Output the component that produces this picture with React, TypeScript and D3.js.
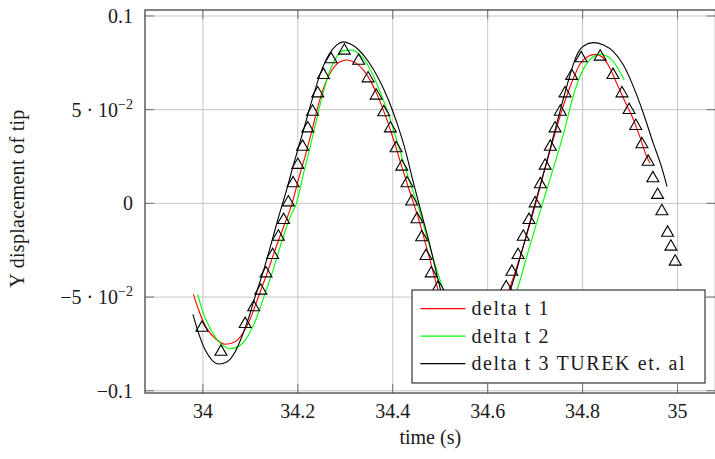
import React, { useEffect, useRef } from "react"
import * as d3 from "d3"

const WIDTH = 715
const HEIGHT = 459
const PLOT = { left: 145, right: 715.5, top: 10, bottom: 393 }

const X_DOMAIN = [33.878, 35.08]
const Y_DOMAIN = [-0.1012, 0.1032]

const X_TICKS = [34, 34.2, 34.4, 34.6, 34.8, 35]
const X_TICK_LABELS = ["34", "34.2", "34.4", "34.6", "34.8", "35"]
const Y_TICKS = [-0.1, -0.05, 0, 0.05, 0.1]
const Y_TICK_LABELS = ["\u22120.1", "\u22125 \u00b7 10", "0", "5 \u00b7 10", "0.1"]
const Y_TICK_EXPONENTS = [null, "\u22122", null, "\u22122", null]

const X_LABEL = "time (s)"
const Y_LABEL = "Y displacement of tip"

// [time, displacement]
const deltaT1: [number, number][] = [
	[33.98, -0.0486], [33.991, -0.0569], [34.008, -0.0667], [34.026, -0.0721], [34.047, -0.0752],
	[34.068, -0.0738], [34.086, -0.0685], [34.1, -0.0614], [34.117, -0.0498], [34.135, -0.0374],
	[34.152, -0.0249], [34.17, -0.0125], [34.188, 0.0], [34.201, 0.0125], [34.216, 0.0258],
	[34.23, 0.0391], [34.244, 0.0534], [34.258, 0.0641], [34.272, 0.0712], [34.289, 0.0756],
	[34.303, 0.0765], [34.321, 0.0751], [34.338, 0.0712], [34.352, 0.0659], [34.366, 0.0587],
	[34.384, 0.0472], [34.402, 0.0338], [34.419, 0.0196], [34.437, 0.0054], [34.454, -0.008],
	[34.475, -0.027], [34.496, -0.0464], [34.52, -0.062], [34.555, -0.073], [34.59, -0.069],
	[34.62, -0.059], [34.645, -0.046], [34.67, -0.027], [34.7, -0.001], [34.718, 0.016],
	[34.738, 0.034], [34.758, 0.051], [34.777, 0.0645], [34.795, 0.0745], [34.812, 0.0785],
	[34.827, 0.0795], [34.842, 0.078], [34.857, 0.0725], [34.872, 0.064], [34.89, 0.054],
	[34.905, 0.046], [34.92, 0.036], [34.935, 0.025], [34.942, 0.0214],
]

const deltaT2: [number, number][] = [
	[33.989, -0.0486], [34.001, -0.0587], [34.019, -0.0685], [34.036, -0.0744], [34.058, -0.0776],
	[34.079, -0.0756], [34.096, -0.0703], [34.114, -0.0605], [34.131, -0.048], [34.149, -0.0347],
	[34.166, -0.0205], [34.184, -0.0071], [34.197, 0.0], [34.212, 0.016], [34.226, 0.0302],
	[34.24, 0.0454], [34.254, 0.0596], [34.268, 0.0712], [34.282, 0.0783], [34.296, 0.0815],
	[34.314, 0.0818], [34.331, 0.0792], [34.349, 0.073], [34.366, 0.0641], [34.384, 0.0525],
	[34.402, 0.0391], [34.419, 0.0249], [34.437, 0.0107], [34.454, -0.002], [34.48, -0.025],
	[34.507, -0.0464], [34.53, -0.062], [34.565, -0.074], [34.6, -0.07], [34.63, -0.06],
	[34.662, -0.046], [34.685, -0.026], [34.707, -0.0071], [34.735, 0.016], [34.76, 0.0374],
	[34.784, 0.0605], [34.809, 0.0747], [34.837, 0.0795], [34.862, 0.0765], [34.888, 0.0658],
]

const deltaT3Turek: [number, number][] = [
	[33.979, -0.0592], [33.991, -0.0694], [34.005, -0.0783], [34.019, -0.0836], [34.033, -0.0857],
	[34.051, -0.0845], [34.068, -0.0792], [34.082, -0.0712], [34.096, -0.0614], [34.11, -0.0498],
	[34.128, -0.0356], [34.145, -0.0205], [34.158, -0.0085], [34.175, 0.006], [34.193, 0.0225],
	[34.212, 0.0392], [34.23, 0.0552], [34.247, 0.069], [34.265, 0.0792], [34.282, 0.0846],
	[34.296, 0.0862], [34.31, 0.0852], [34.328, 0.082], [34.349, 0.0756], [34.37, 0.0667],
	[34.391, 0.0552], [34.41, 0.042], [34.428, 0.027], [34.442, 0.0125], [34.456, -0.001],
	[34.478, -0.022], [34.501, -0.0464], [34.53, -0.068], [34.565, -0.078], [34.6, -0.072],
	[34.625, -0.06], [34.648, -0.046], [34.675, -0.023], [34.7, 0.0], [34.722, 0.02],
	[34.745, 0.042], [34.765, 0.061], [34.788, 0.0792], [34.802, 0.084], [34.823, 0.0858],
	[34.844, 0.0845], [34.865, 0.081], [34.886, 0.0738], [34.907, 0.0623], [34.928, 0.0481],
	[34.949, 0.032], [34.965, 0.0205], [34.978, 0.0089],
]

// reference points (triangles), no legend entry
const referencePoints: [number, number][] = [
	[33.998, -0.0664], [34.038, -0.0792], [34.089, -0.0644], [34.107, -0.0555], [34.122, -0.0466],
	[34.133, -0.0374], [34.147, -0.0276], [34.159, -0.0178], [34.17, -0.0089], [34.18, 0.0005],
	[34.19, 0.0107], [34.2, 0.0205], [34.21, 0.0302], [34.221, 0.04], [34.231, 0.0489],
	[34.242, 0.0587], [34.254, 0.0685], [34.27, 0.0769], [34.298, 0.0815], [34.328, 0.0761],
	[34.348, 0.0667], [34.365, 0.0575], [34.381, 0.0486], [34.395, 0.04], [34.407, 0.0294],
	[34.419, 0.0196], [34.43, 0.0107], [34.44, 0.001], [34.451, -0.0085], [34.461, -0.0181],
	[34.47, -0.0281], [34.481, -0.0374], [34.496, -0.0448], [34.639, -0.0448], [34.651, -0.0365],
	[34.664, -0.0276], [34.675, -0.0178], [34.687, -0.0089], [34.7, 0.0], [34.711, 0.0102],
	[34.721, 0.0201], [34.732, 0.0302], [34.742, 0.04], [34.753, 0.0489], [34.763, 0.0587],
	[34.777, 0.068], [34.797, 0.0774], [34.837, 0.0783], [34.864, 0.0685], [34.883, 0.0587],
	[34.898, 0.0498], [34.912, 0.0413], [34.925, 0.0315], [34.938, 0.0222], [34.948, 0.0134],
	[34.958, 0.0045], [34.967, -0.0042], [34.979, -0.0157], [34.986, -0.0231], [34.995, -0.0311],
]

const SERIES = [
	{ name: "delta t 1", data: deltaT1, color: "#ff0000" },
	{ name: "delta t 2", data: deltaT2, color: "#00ff00" },
	{ name: "delta t 3 TUREK et. al", data: deltaT3Turek, color: "#000000" },
]

const FONT = "Liberation Serif"
const TEXT_COLOR = "#1a1a1a"

const App = () => {
	const svgRef = useRef<SVGSVGElement>(null)

	useEffect(() => {
		if (!svgRef.current) return
		const svg = d3.select(svgRef.current)
		svg.selectAll("*").remove()

		const x = d3.scaleLinear().domain(X_DOMAIN).range([PLOT.left, PLOT.right])
		const y = d3.scaleLinear().domain(Y_DOMAIN).range([PLOT.bottom, PLOT.top])

		// grid
		const grid = svg.append("g").attr("stroke", "#c6c6c6").attr("stroke-width", 1)
		X_TICKS.forEach((t) => {
			grid.append("line")
				.attr("x1", x(t)).attr("x2", x(t))
				.attr("y1", PLOT.top).attr("y2", PLOT.bottom)
		})
		Y_TICKS.forEach((t) => {
			grid.append("line")
				.attr("x1", PLOT.left).attr("x2", PLOT.right)
				.attr("y1", y(t)).attr("y2", y(t))
		})

		// tick marks, inside, on all four sides
		const TICK = 9
		const ticks = svg.append("g").attr("stroke", "#707070").attr("stroke-width", 1)
		X_TICKS.forEach((t) => {
			ticks.append("line").attr("x1", x(t)).attr("x2", x(t))
				.attr("y1", PLOT.bottom).attr("y2", PLOT.bottom - TICK)
			ticks.append("line").attr("x1", x(t)).attr("x2", x(t))
				.attr("y1", PLOT.top).attr("y2", PLOT.top + TICK)
		})
		Y_TICKS.forEach((t) => {
			ticks.append("line").attr("x1", PLOT.left).attr("x2", PLOT.left + TICK)
				.attr("y1", y(t)).attr("y2", y(t))
			ticks.append("line").attr("x1", PLOT.right).attr("x2", PLOT.right - TICK)
				.attr("y1", y(t)).attr("y2", y(t))
		})

		// series lines
		const line = d3.line<[number, number]>()
			.x((d) => x(d[0]))
			.y((d) => y(d[1]))
			.curve(d3.curveMonotoneX)

		SERIES.forEach((s) => {
			svg.append("path")
				.datum(s.data)
				.attr("fill", "none")
				.attr("stroke", s.color)
				.attr("stroke-width", 1.1)
				.attr("d", line)
		})

		// triangle markers
		const tri = d3.symbol().type(d3.symbolTriangle).size(62)
		svg.append("g")
			.selectAll("path")
			.data(referencePoints)
			.join("path")
			.attr("transform", (d) => `translate(${x(d[0])},${y(d[1])})`)
			.attr("d", tri)
			.attr("fill", "none")
			.attr("stroke", "#000")
			.attr("stroke-width", 1.1)

		// frame
		svg.append("rect")
			.attr("x", PLOT.left).attr("y", PLOT.top)
			.attr("width", PLOT.right - PLOT.left)
			.attr("height", PLOT.bottom - PLOT.top)
			.attr("fill", "none")
			.attr("stroke", "#444")
			.attr("stroke-width", 1.3)

		const text = (sel: any) =>
			sel.attr("font-family", FONT).attr("font-size", 20).attr("fill", TEXT_COLOR)

		// x tick labels
		X_TICKS.forEach((t, i) => {
			svg.append("text")
				.attr("x", x(t)).attr("y", PLOT.bottom + 25)
				.attr("text-anchor", "middle")
				.call(text)
				.text(X_TICK_LABELS[i])
		})

		// y tick labels
		Y_TICKS.forEach((t, i) => {
			const txt = svg.append("text")
				.attr("x", PLOT.left - 12).attr("y", y(t) + 7)
				.attr("text-anchor", "end")
				.call(text)
			txt.append("tspan").text(Y_TICK_LABELS[i])
			const exp = Y_TICK_EXPONENTS[i]
			if (exp) {
				txt.append("tspan")
					.attr("dy", -8)
					.attr("font-size", 14)
					.text(exp)
			}
		})

		// axis labels
		svg.append("text")
			.attr("x", (PLOT.left + PLOT.right) / 2).attr("y", 444)
			.attr("text-anchor", "middle")
			.call(text)
			.text(X_LABEL)

		svg.append("text")
			.attr("transform", `translate(24,${(PLOT.top + PLOT.bottom) / 2 - 3}) rotate(-90)`)
			.attr("text-anchor", "middle")
			.call(text)
			.attr("letter-spacing", 0.3)
			.text(Y_LABEL)

		// legend, south east
		const lgW = 293
		const lgH = 93
		const lgX = PLOT.right - 10.5 - lgW
		const lgY = PLOT.bottom - 10 - lgH
		const legend = svg.append("g").attr("transform", `translate(${lgX},${lgY})`)
		legend.append("rect")
			.attr("width", lgW).attr("height", lgH)
			.attr("fill", "#fff").attr("stroke", "#222").attr("stroke-width", 1.1)
		SERIES.forEach((s, i) => {
			const rowY = 18.6 + i * 27.5
			legend.append("line")
				.attr("x1", 8.4).attr("x2", 53.4)
				.attr("y1", rowY).attr("y2", rowY)
				.attr("stroke", s.color).attr("stroke-width", 1.1)
			legend.append("text")
				.attr("x", 59.4).attr("y", rowY + 6.5)
				.call(text)
				.attr("letter-spacing", 1.6)
				.text(s.name)
		})
	}, [])

	return (
		<div style={{ position: "absolute", left: 0, top: 0 }}>
			<svg
				ref={svgRef}
				width={WIDTH}
				height={HEIGHT}
				style={{ display: "block", background: "#fff" }}
			></svg>
		</div>
	)
}

export default App
